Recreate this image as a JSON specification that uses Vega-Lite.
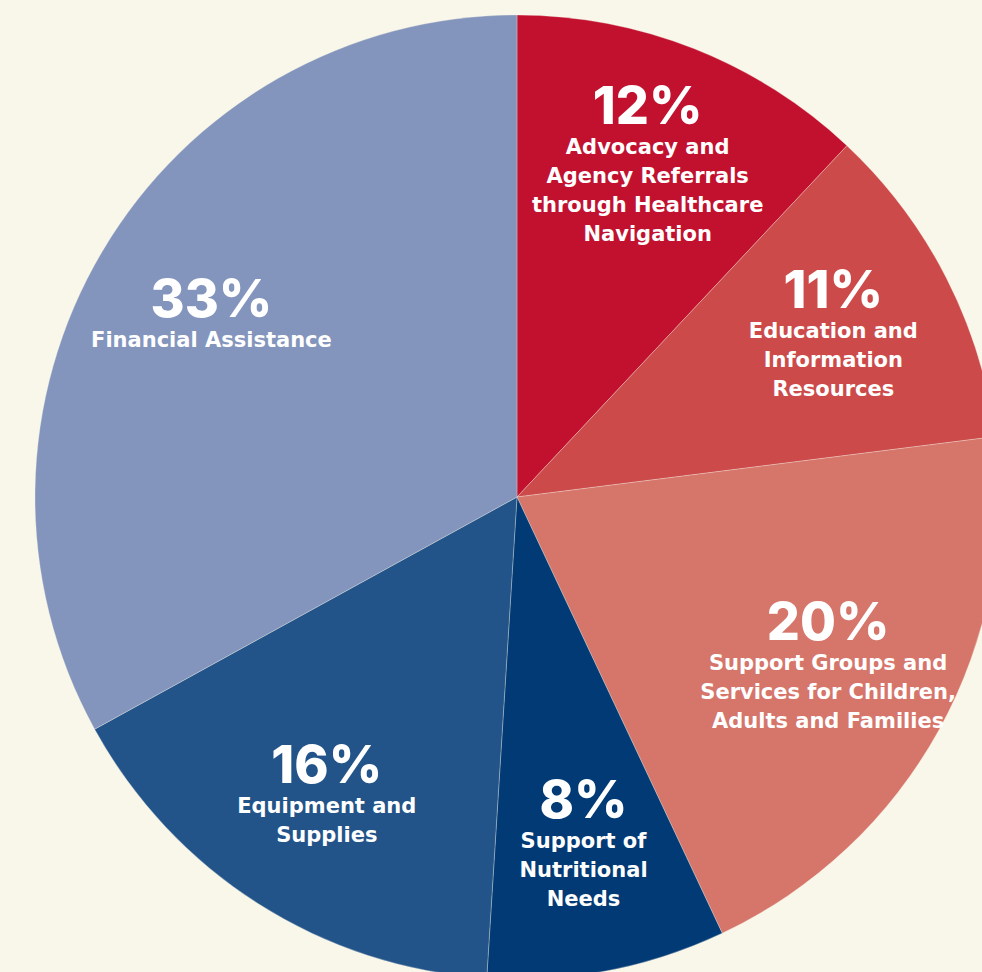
{
  "$schema": "https://vega.github.io/schema/vega-lite/v6.json",
  "width": 930,
  "height": 950,
  "autosize": {"type": "none"},
  "padding": {"left": 52, "top": 22, "right": 0, "bottom": 0},
  "background": "#f9f6ea",
  "config": {"view": {"stroke": null}},
  "data": {
    "values": [
      {"rank": 1, "category": "Advocacy", "pct": 12, "pctLabel": "12%", "label": ["Advocacy and", "Agency Referrals", "through Healthcare", "Navigation"]},
      {"rank": 2, "category": "Education", "pct": 11, "pctLabel": "11%", "label": ["Education and", "Information", "Resources"]},
      {"rank": 3, "category": "Support Groups", "pct": 20, "pctLabel": "20%", "label": ["Support Groups and", "Services for Children,", "Adults and Families"]},
      {"rank": 4, "category": "Nutrition", "pct": 8, "pctLabel": "8%", "label": ["Support of", "Nutritional", "Needs"]},
      {"rank": 5, "category": "Equipment", "pct": 16, "pctLabel": "16%", "label": ["Equipment and", "Supplies"]},
      {"rank": 6, "category": "Financial", "pct": 33, "pctLabel": "33%", "label": ["Financial Assistance"]}
    ]
  },
  "encoding": {
    "theta": {"field": "pct", "type": "quantitative", "stack": true},
    "order": {"field": "rank", "type": "quantitative"}
  },
  "layer": [
    {
      "mark": {"type": "arc", "outerRadius": 482, "stroke": "#f9f6ea", "strokeWidth": 0.6, "strokeOpacity": 0.5},
      "encoding": {
        "color": {
          "field": "category",
          "type": "nominal",
          "legend": null,
          "scale": {
            "domain": ["Advocacy", "Education", "Support Groups", "Nutrition", "Equipment", "Financial"],
            "range": ["#c1112f", "#cd4a4a", "#d6756a", "#013a74", "#225489", "#8395bc"]
          }
        }
      }
    },
    {
      "mark": {"type": "text", "radius": 355, "font": "DejaVu Sans", "fontWeight": "bold", "fontSize": 21, "lineHeight": 29, "fill": "white", "align": "center", "baseline": "middle", "dy": {"expr": "25 - (length(datum.label) - 1) * 14.5"}},
      "encoding": {"text": {"field": "label"}}
    },
    {
      "mark": {"type": "text", "radius": 355, "font": "Inter", "fontWeight": 800, "fontSize": 52, "fill": "white", "align": "center", "baseline": "alphabetic", "dy": {"expr": "1 - (length(datum.label) - 1) * 14.5"}},
      "encoding": {"text": {"field": "pctLabel"}}
    }
  ]
}
